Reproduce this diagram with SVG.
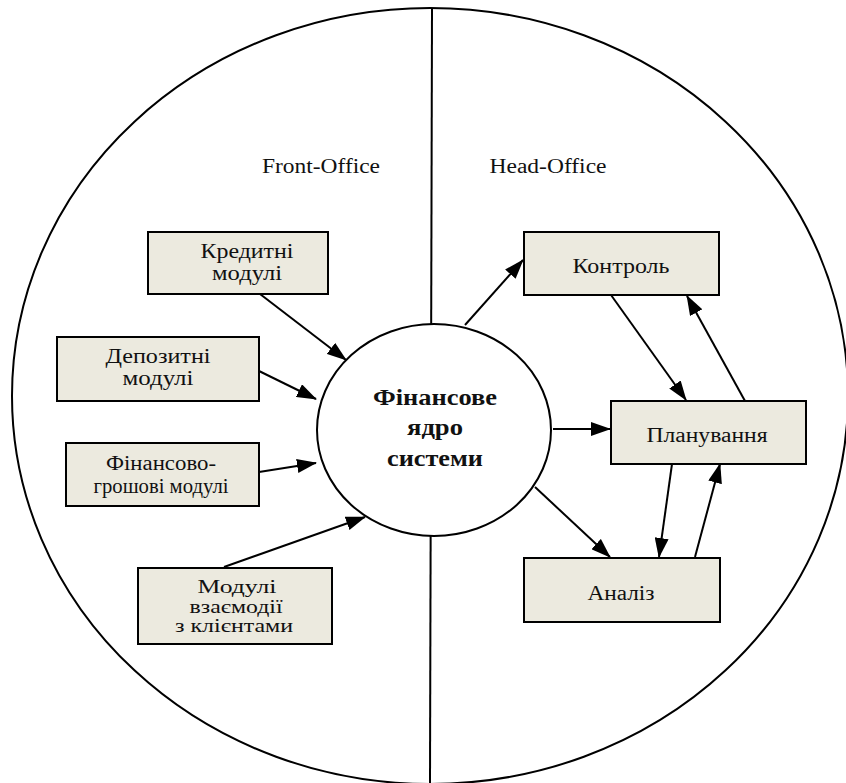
<svg xmlns="http://www.w3.org/2000/svg" width="846" height="783" viewBox="0 0 846 783">
<defs>
<marker id="ah" markerUnits="userSpaceOnUse" viewBox="0 0 20 14" refX="19" refY="7" markerWidth="20" markerHeight="14" orient="auto">
<path d="M0,0 L20,7 L0,14 z" fill="#000"/>
</marker>
<style>
.box{fill:#ECEADF;stroke:#000;stroke-width:2}
.t{font-family:"Liberation Serif","DejaVu Serif","Times New Roman",serif;font-size:20px;fill:#111;text-anchor:middle}
.s{font-size:18px}
.b{font-family:"Liberation Serif","DejaVu Serif","Times New Roman",serif;font-size:23px;font-weight:bold;fill:#111;text-anchor:middle}
.c{stroke:#000;stroke-width:2;fill:none;marker-end:url(#ah)}
</style>
</defs>
<rect width="846" height="783" fill="#fff"/>
<g id="outer">
<ellipse cx="430" cy="396" rx="418" ry="388" fill="none" stroke="#000" stroke-width="2"/>
<line x1="432" y1="8" x2="430" y2="783" stroke="#000" stroke-width="2"/>
<text class="t" x="321" y="173" textLength="118" lengthAdjust="spacingAndGlyphs">Front-Office</text>
<text class="t" x="548" y="173" textLength="117" lengthAdjust="spacingAndGlyphs">Head-Office</text>
</g>
<g id="connectors">
<line class="c" x1="260" y1="294" x2="346" y2="360"/>
<line class="c" x1="259" y1="371" x2="316" y2="399"/>
<line class="c" x1="259" y1="472" x2="316" y2="463"/>
<line class="c" x1="224" y1="567" x2="365" y2="517"/>
<line class="c" x1="465" y1="325" x2="523" y2="260"/>
<line class="c" x1="553" y1="429" x2="610" y2="429"/>
<line class="c" x1="535" y1="487" x2="610" y2="557"/>
<line class="c" x1="611" y1="295" x2="686" y2="400"/>
<line class="c" x1="745" y1="401" x2="687" y2="296"/>
<line class="c" x1="672" y1="464" x2="659" y2="557"/>
<line class="c" x1="695" y1="557" x2="720" y2="464"/>
</g>
<g id="core">
<ellipse cx="434" cy="430" rx="117" ry="106" fill="#fff" stroke="#000" stroke-width="2"/>
<text class="b" x="435" y="405" textLength="124" lengthAdjust="spacingAndGlyphs">Фінансове</text>
<text class="b" x="435" y="435" textLength="56" lengthAdjust="spacingAndGlyphs">ядро</text>
<text class="b" x="435" y="466" textLength="96" lengthAdjust="spacingAndGlyphs">системи</text>
</g>
<g id="credit">
<rect class="box" x="148" y="232" width="180" height="62"/>
<text class="t" x="247" y="258" textLength="93" lengthAdjust="spacingAndGlyphs">Кредитні</text>
<text class="t" x="247" y="280" textLength="70" lengthAdjust="spacingAndGlyphs">модулі</text>
</g>
<g id="deposit">
<rect class="box" x="57" y="337" width="202" height="64"/>
<text class="t" x="158" y="363" textLength="105" lengthAdjust="spacingAndGlyphs">Депозитні</text>
<text class="t" x="158" y="385" textLength="71" lengthAdjust="spacingAndGlyphs">модулі</text>
</g>
<g id="finmoney">
<rect class="box" x="66" y="443" width="193" height="63"/>
<text class="t" x="161" y="470" textLength="110" lengthAdjust="spacingAndGlyphs">Фінансово-</text>
<text class="t" x="161" y="493" textLength="135" lengthAdjust="spacingAndGlyphs">грошові модулі</text>
</g>
<g id="clients">
<rect class="box" x="138" y="568" width="194" height="76"/>
<text class="t s" x="237" y="593" textLength="79" lengthAdjust="spacingAndGlyphs">Модулі</text>
<text class="t s" x="236" y="613" textLength="93" lengthAdjust="spacingAndGlyphs">взаємодії</text>
<text class="t s" x="234" y="632" textLength="118" lengthAdjust="spacingAndGlyphs">з клієнтами</text>
</g>
<g id="control">
<rect class="box" x="524" y="232" width="195" height="63"/>
<text class="t" x="621" y="273" textLength="97" lengthAdjust="spacingAndGlyphs">Контроль</text>
</g>
<g id="planning">
<rect class="box" x="611" y="401" width="195" height="63"/>
<text class="t" x="707" y="442" textLength="121" lengthAdjust="spacingAndGlyphs">Планування</text>
</g>
<g id="analysis">
<rect class="box" x="524" y="558" width="196" height="64"/>
<text class="t" x="621" y="600" textLength="67" lengthAdjust="spacingAndGlyphs">Аналіз</text>
</g>
</svg>
